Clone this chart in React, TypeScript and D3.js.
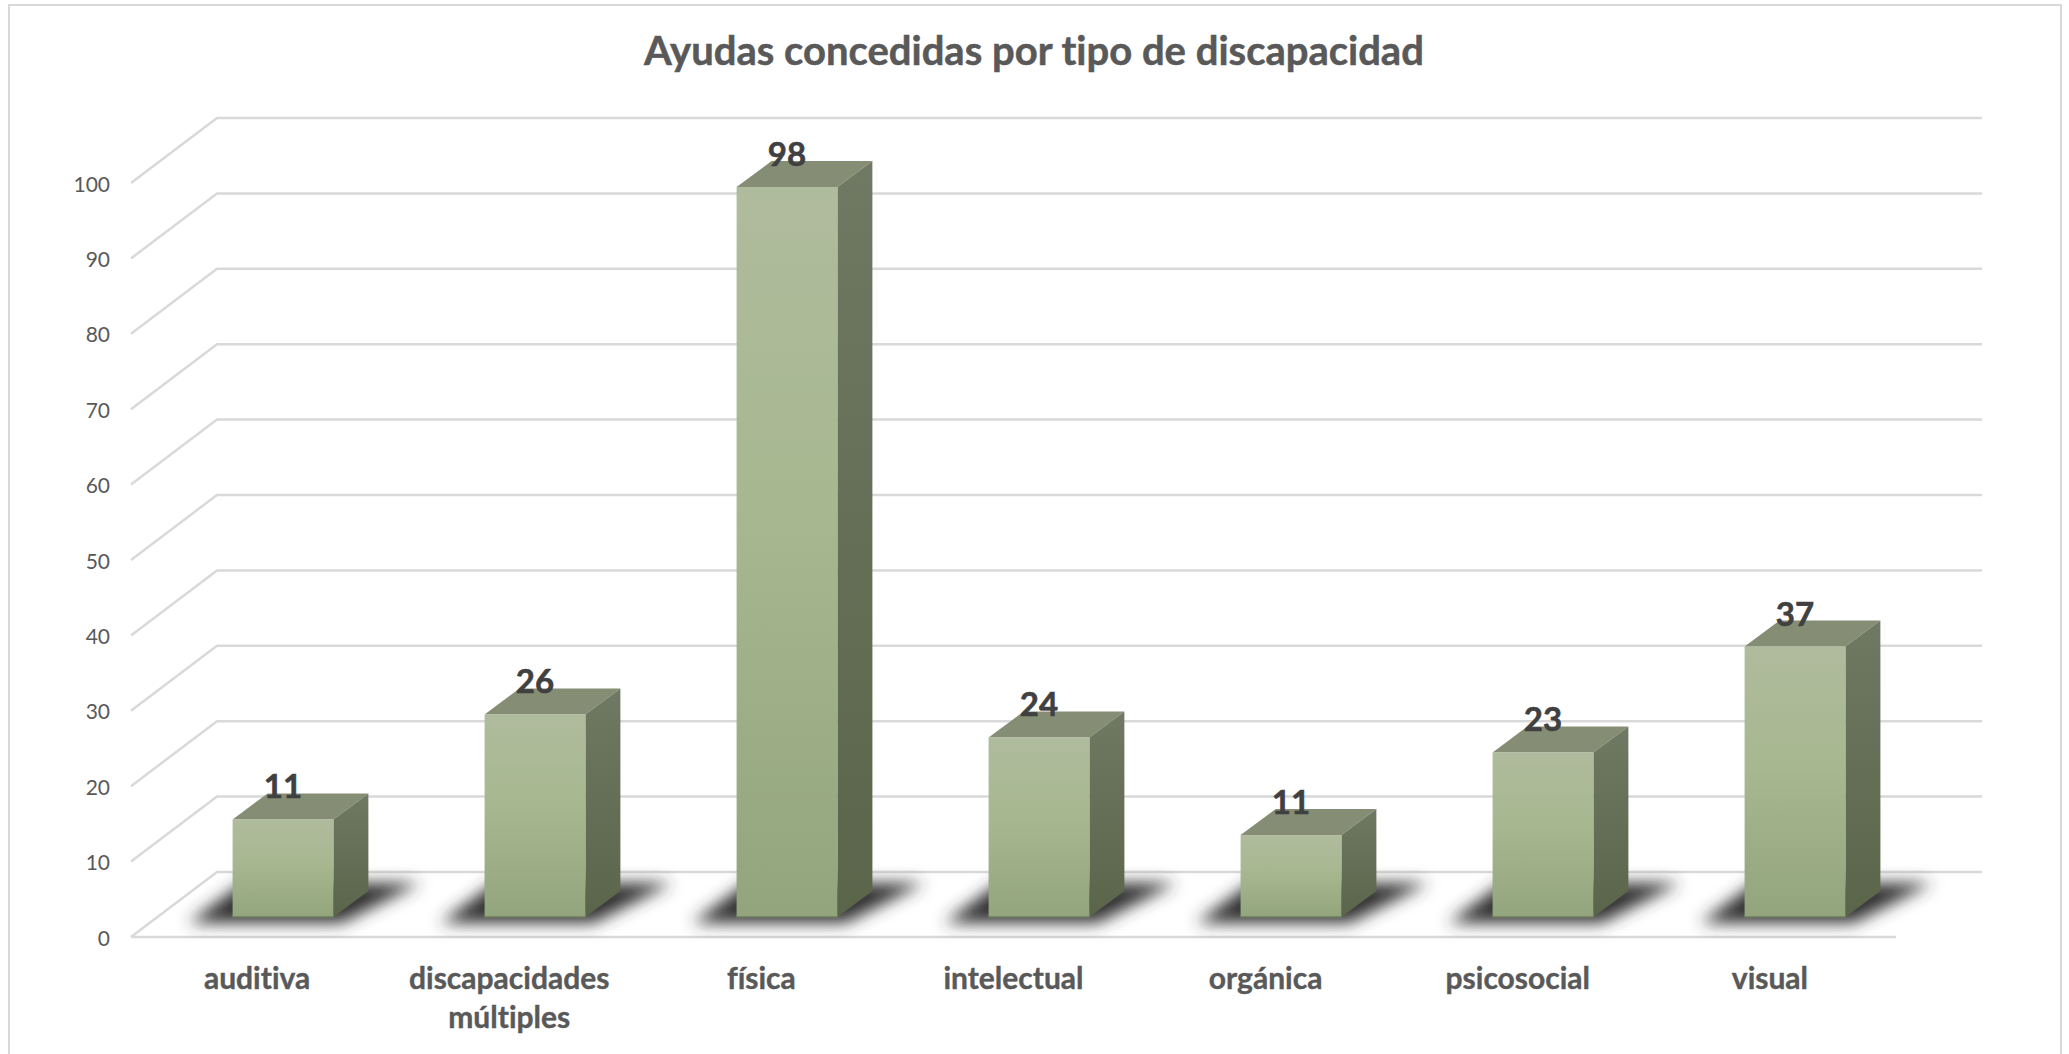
import React, { useEffect, useRef } from "react";
import * as d3 from "d3";

const categories = ["auditiva", "discapacidades múltiples", "física", "intelectual", "orgánica", "psicosocial", "visual"];
// number printed over each bar
const valueLabels = [11, 26, 98, 24, 11, 23, 37];
// height each bar is actually drawn at
const barHeights = [13.1, 27.2, 98, 24.1, 11.0, 22.1, 36.3];
const yTicks = [0, 10, 20, 30, 40, 50, 60, 70, 80, 90, 100];
const chartTitle = "Ayudas concedidas por tipo de discapacidad";

const width = 2069;
const height = 1054;
const font = "Lato, Carlito, Calibri, sans-serif";

const floorDepth = { x: 86, y: -65 };
const barDepth = { x: 35, y: -26 };

const App = () => {
  const svgRef = useRef<SVGSVGElement>(null);

  useEffect(() => {
    const svg = d3.select(svgRef.current).style("font-variant-ligatures", "none");
    svg.selectAll("*").remove();

    const xFront = d3.scaleBand().domain(categories).range([131, 1896]).paddingInner(0.6).paddingOuter(0.3);
    const xBar = d3.scaleBand().domain(categories).range([157, 1921]).paddingInner(0.6).paddingOuter(0.3);
    const yFront = d3.scaleLinear().domain([0, 100]).range([937, 183]);
    const yBar = d3.scaleLinear().domain([0, 98]).range([917, 187]);
    const line = d3.line();

    const defs = svg.append("defs");
    const gradient = (id: string, stops: [string, string][], x2 = "0", y2 = "1") => {
      const g = defs.append("linearGradient").attr("id", id).attr("x1", 0).attr("y1", 0).attr("x2", x2).attr("y2", y2);
      stops.forEach(([o, c]) => g.append("stop").attr("offset", o).attr("stop-color", c));
    };
    gradient("frontFace", [["0", "#afbb9d"], ["0.45", "#a7b890"], ["1", "#93a57d"]]);
    gradient("sideFace", [["0", "#6f7963"], ["1", "#5b654a"]]);
    defs.append("filter").attr("id", "blur").attr("x", "-30%").attr("y", "-80%").attr("width", "160%").attr("height", "260%")
      .append("feGaussianBlur").attr("stdDeviation", 8);

    svg.append("rect").attr("width", width).attr("height", height).attr("fill", "#fff");
    svg.append("path").attr("d", `M9,${height + 5}V5H2061V${height + 5}`).attr("fill", "none").attr("stroke", "#d9d9d9").attr("stroke-width", 2);

    svg.append("text").attr("x", 1034).attr("y", 50).attr("text-anchor", "middle").attr("dominant-baseline", "central")
      .attr("font-family", font).attr("font-weight", 700).attr("font-size", 40).attr("fill", "#595959")
      .attr("stroke", "#595959").attr("stroke-width", 0.5).text(chartTitle);

    // gridlines: front edge, up the side wall, then along the back wall
    const [x0, x1] = xFront.range();
    yTicks.forEach((t) => {
      const y = yFront(t);
      svg.append("path")
        .attr("d", line([[x0, y], [x0 + floorDepth.x, y + floorDepth.y], [x1 + floorDepth.x, y + floorDepth.y]]))
        .attr("fill", "none").attr("stroke", "#d9d9d9").attr("stroke-width", 2.5);
    });
    svg.append("line").attr("x1", x0).attr("x2", x1).attr("y1", yFront(0)).attr("y2", yFront(0)).attr("stroke", "#d9d9d9").attr("stroke-width", 2.5);

    svg.append("g").selectAll("text").data(yTicks).join("text")
      .attr("x", 110).attr("y", (d) => yFront(d)).attr("text-anchor", "end").attr("dominant-baseline", "central")
      .attr("font-family", font).attr("font-size", 21).attr("fill", "#595959").text((d) => d);

    // category labels, wrapped on the space for the long one
    categories.forEach((c) => {
      const text = svg.append("text").attr("text-anchor", "middle").attr("font-family", font)
        .attr("font-weight", 700).attr("font-size", 30).attr("fill", "#595959")
        .attr("stroke", "#595959").attr("stroke-width", 0.4);
      c.split(" ").forEach((word, i) => {
        text.append("tspan").attr("x", xFront(c)! + xFront.bandwidth() / 2).attr("y", 977 + i * 39)
          .attr("dominant-baseline", "central").text(word);
      });
    });

    const bw = xBar.bandwidth();
    const base = yBar(0);

    // floor shadows first, so every bar sits on top
    categories.forEach((c) => {
      const l = xBar(c)!;
      svg.append("path")
        .attr("d", line([
          [l - 44, base + 6],
          [l + bw + 8, base + 6],
          [l + bw + barDepth.x + 52, base + barDepth.y - 8],
          [l + 10, base + barDepth.y - 8],
        ]) + "Z")
        .attr("fill", "#333").attr("filter", "url(#blur)");
    });

    categories.forEach((c, i) => {
      const l = xBar(c)!;
      const r = l + bw;
      const top = yBar(barHeights[i]);
      const g = svg.append("g");
      g.append("path")
        .attr("d", line([[l, top], [r, top], [r + barDepth.x, top + barDepth.y], [l + barDepth.x, top + barDepth.y]]) + "Z")
        .attr("fill", "#858d75");
      g.append("path")
        .attr("d", line([[r, top], [r + barDepth.x, top + barDepth.y], [r + barDepth.x, base + barDepth.y], [r, base]]) + "Z")
        .attr("fill", "url(#sideFace)");
      g.append("rect").attr("x", l).attr("y", top).attr("width", bw).attr("height", base - top).attr("fill", "url(#frontFace)");
      g.append("line").attr("x1", l).attr("x2", r).attr("y1", base).attr("y2", base).attr("stroke", "#6f7d5c").attr("stroke-width", 1.5);
    });

    categories.forEach((c, i) => {
      svg.append("text").attr("x", xBar(c)! + bw / 2).attr("y", yBar(barHeights[i]) - 34)
        .attr("text-anchor", "middle").attr("dominant-baseline", "central")
        .attr("font-family", font).attr("font-weight", 700).attr("font-size", 33).attr("fill", "#404040")
        .attr("stroke", "#404040").attr("stroke-width", 0.6)
        .text(valueLabels[i]);
    });
  }, []);

  return (
    <svg ref={svgRef} width={width} height={height} style={{ position: "absolute", left: 0, top: 0, display: "block" }} />
  );
};

export default App;
